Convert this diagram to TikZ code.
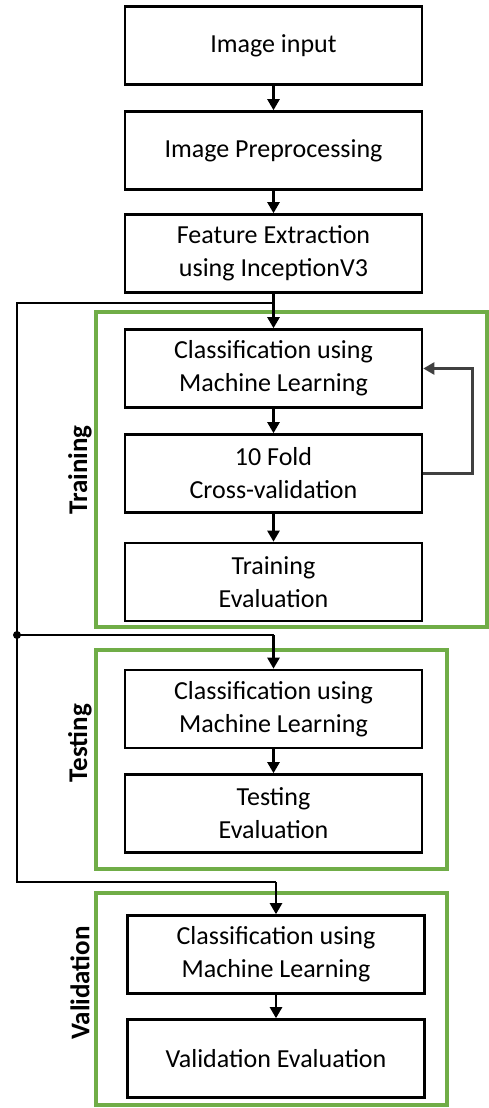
\documentclass[tikz,border=0pt]{standalone}
\usepackage{fontspec}
\setmainfont{Carlito}
\usetikzlibrary{arrows.meta, positioning}
\definecolor{stagegreen}{RGB}{112,173,71}

\begin{document}
\begin{tikzpicture}[
    x=1pt, y=1pt,
    block/.style={rectangle, draw, line width=2.6pt, text centered, align=center, minimum width=297pt, minimum height=78pt, font=\fontsize{26}{33}\selectfont},
    stage/.style={draw=stagegreen, line width=4.5pt},
    phase/.style={rotate=90, font=\fontsize{27}{30}\selectfont\bfseries},
    link/.style={line width=2.4pt},
    arrow/.style={-{Triangle[length=11pt, width=12pt]}, line width=2.4pt}
]
\useasboundingbox (0,0) rectangle (489,-1108);

% stage frames
\draw[stage] (96,-312) rectangle (487,-627);
\draw[stage] (96,-650) rectangle (447,-869);
\draw[stage] (96,-893) rectangle (447,-1105);

\node[phase] (training_label) at (80,-470) {Training};
\node[phase] (testing_label) at (80,-743) {Testing};
\node[phase] (validation_label) at (80,-983) {Validation};

% blocks
\node[block] (input) at (273.5,-45.5) {Image input};
\node[block] (prep) at (273.5,-150.5) {Image Preprocessing};
\node[block] (feat) at (273.5,-253.5) {Feature Extraction\\using InceptionV3};

\node[block] (cls_train) at (273.5,-368.5) {Classification using\\Machine Learning};
\node[block] (fold) at (273.5,-473.5) {10 Fold\\Cross-validation};
\node[block] (eval_train) at (273.5,-582) {Training\\Evaluation};

\node[block] (cls_test) at (273.5,-709) {Classification using\\Machine Learning};
\node[block] (eval_test) at (273.5,-813.5) {Testing\\Evaluation};

\node[block] (cls_valid) at (276,-954.5) {Classification using\\Machine Learning};
\node[block] (eval_valid) at (276,-1058.5) {Validation Evaluation};

% junctions
\coordinate (split) at (273.5,-303);
\coordinate (top_left) at (17,-303);
\coordinate (branch) at (17,-635);
\coordinate (bottom_left) at (17,-882);
\coordinate (test_in) at (273.5,-635);
\coordinate (valid_in) at (276,-882);

% arrows
\draw[arrow] (input) -- (prep);
\draw[arrow] (prep) -- (feat);
\draw[link] (feat) -- (split);
\draw[arrow] (split) -- (cls_train);
\draw[arrow] (cls_train) -- (fold);
\draw[arrow] (fold) -- (eval_train);
\draw[arrow, draw=black!75] (fold.east) -- ++(49,0) |- (cls_train.east);

\draw[link, line join=miter] (split) -- (top_left) -- (bottom_left) -- (valid_in);
\draw[link] (branch) -- (test_in);
\fill (branch) circle (4pt);
\draw[arrow] (test_in) -- (cls_test);
\draw[arrow] (cls_test) -- (eval_test);
\draw[arrow] (valid_in) -- (cls_valid);
\draw[arrow] (cls_valid) -- (eval_valid);

\end{tikzpicture}
\end{document}
